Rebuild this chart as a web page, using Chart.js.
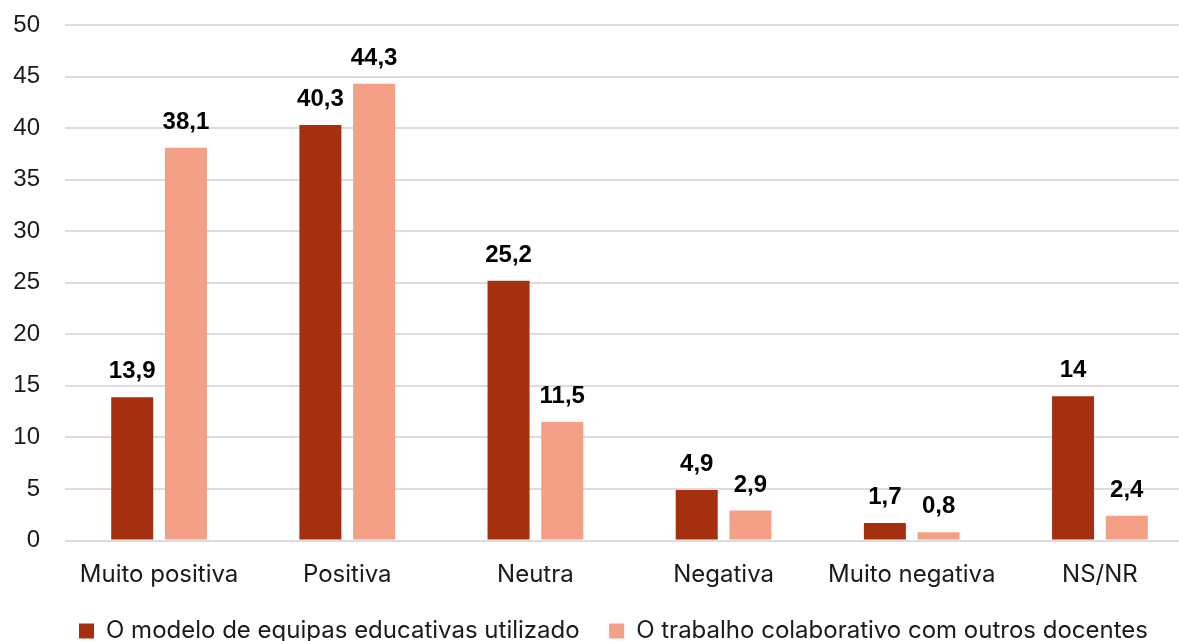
<!DOCTYPE html>
<html>
<head>
<meta charset="utf-8">
<script src="https://cdn.jsdelivr.net/npm/chart.js@4.4.1/dist/chart.umd.min.js"></script>
<style>
  html, body { margin: 0; padding: 0; background: #ffffff; overflow: hidden; }
  #wrap { width: 1200px; height: 653px; position: relative; }
</style>
</head>
<body>
<div id="wrap"><canvas id="chart"></canvas></div>
<script>
// Category labels (x axis)
const categories = ['Muito positiva', 'Positiva', 'Neutra', 'Negativa', 'Muito negativa', 'NS/NR'];

// Series names
const seriesModelName = 'O modelo de equipas educativas utilizado';
const seriesColabName = 'O trabalho colaborativo com outros docentes';

// Series values (%)
const seriesModel = [13.9, 40.3, 25.2, 4.9, 1.7, 14];
const seriesColab = [38.1, 44.3, 11.5, 2.9, 0.8, 2.4];

// Y axis range and step
const yMin = 0;
const yMax = 50;
const yStep = 5;

const darkRed = '#A5300F';
const salmon = '#F4A086';

const tickFont = "'Liberation Sans', Arial, sans-serif";
const textFont = "Inter, 'Open Sans', sans-serif";

// Writes each bar's value above it, with a decimal comma
const valueLabels = {
  id: 'valueLabels',
  afterDatasetsDraw(chart) {
    const ctx = chart.ctx;
    ctx.save();
    ctx.font = "bold 24px " + tickFont;
    ctx.fillStyle = '#000000';
    ctx.textAlign = 'center';
    ctx.textBaseline = 'alphabetic';
    chart.data.datasets.forEach((ds, i) => {
      const meta = chart.getDatasetMeta(i);
      meta.data.forEach((bar, j) => {
        const txt = String(ds.data[j]).replace('.', ',');
        ctx.fillText(txt, bar.x, bar.y - 19);
      });
    });
    ctx.restore();
  }
};

// Nudges the legend row a little to the right of the canvas centre
const legendOffset = {
  id: 'legendOffset',
  afterLayout(chart) {
    const lg = chart.legend;
    if (lg) { lg.left += 10; lg.right += 10; }
  }
};

new Chart(document.getElementById('chart'), {
  type: 'bar',
  data: {
    labels: categories,
    datasets: [
      { label: seriesModelName, data: seriesModel, backgroundColor: darkRed, borderWidth: 0 },
      { label: seriesColabName, data: seriesColab, backgroundColor: salmon, borderWidth: 0 }
    ]
  },
  options: {
    responsive: true,
    maintainAspectRatio: false,
    animation: false,
    layout: { padding: { left: 13, right: 6, top: 25, bottom: 0 } },
    datasets: {
      bar: { categoryPercentage: 0.571, barPercentage: 0.782 }
    },
    scales: {
      x: {
        afterFit(scale) {
          scale.paddingLeft = 0;
          scale.paddingRight = 0;
          scale.height = 49;
        },
        grid: { display: false, drawTicks: false },
        border: { display: false },
        ticks: { color: '#1a1a1a', font: { family: textFont, size: 24 }, padding: 20 }
      },
      y: {
        min: yMin,
        max: yMax,
        afterFit(scale) {
          scale.paddingTop = 0;
          scale.paddingBottom = 0;
          scale.width = 52;
        },
        grid: { color: '#DCDCDC', lineWidth: 2, drawTicks: false },
        border: { display: false },
        ticks: { stepSize: yStep, color: '#1a1a1a', font: { family: tickFont, size: 24 }, padding: 25 }
      }
    },
    plugins: {
      legend: {
        position: 'bottom',
        labels: {
          boxWidth: 15,
          boxHeight: 15,
          padding: 29.5,
          color: '#1a1a1a',
          font: { family: textFont, size: 24 }
        }
      },
      tooltip: { enabled: false }
    }
  },
  plugins: [valueLabels, legendOffset]
});
</script>
</body>
</html>
